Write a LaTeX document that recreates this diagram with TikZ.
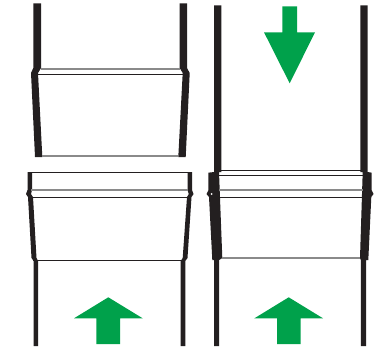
\documentclass[tikz,border=0pt]{standalone}
\usepackage{tikz}
\definecolor{PipeInk}{HTML}{231F20}
\definecolor{SeamGrey}{HTML}{8A8A8A}
\definecolor{PushGreen}{HTML}{00A14B}
\tikzset{
  pipewall/.style={fill=PipeInk,draw=none},
  seamdark/.style={draw=PipeInk,line width=0.8pt},
  seamgrey/.style={draw=SeamGrey,line width=1.1pt},
  pusharrow/.style={fill=PushGreen,draw=none}
}
\begin{document}
\begin{tikzpicture}[x=1pt,y=-1pt]
  \useasboundingbox (0,0) rectangle (380,346);
  % upper spigot, left
  \fill[pipewall] (33.3,3.3) -- (41,3.3) -- (41,68) -- (38,73) -- (42.3,157) -- (35,157) -- (31,73) -- (33.3,68) -- cycle;
  \fill[pipewall] (179.7,3.3) -- (187,3.3) -- (187,68) -- (189.7,73) -- (185.7,157) -- (178.3,157) -- (182.7,73) -- (179.7,68) -- cycle;
  \draw[seamgrey] (41,69) -- (180,69);
  \draw[seamdark] (38,74) -- (183,74);
  \draw[seamgrey] (42,156) -- (178,156);
  % lower socket, left
  \fill[pipewall] (27.5,172) -- (32,172) -- (32,190) -- (31,194) -- (33,197) -- (36.5,258) -- (38.2,261) -- (38.2,346) -- (33.7,346) -- (33.7,261) -- (31.5,258) -- (28,197) -- (26,194) -- (27.5,190) -- cycle;
  \fill[pipewall] (187.5,172) -- (192,172) -- (192,190) -- (193.5,194) -- (191.5,197) -- (187.5,258) -- (185.3,261) -- (185.3,346) -- (180.7,346) -- (180.7,261) -- (182.7,258) -- (187,197) -- (188.8,194) -- (187.5,190) -- cycle;
  \draw[seamdark] (30,172.3) -- (190,172.3);
  \draw[seamgrey] (31,190) -- (188,190);
  \draw[seamdark] (31,197) -- (188,197);
  \draw[seamdark] (33,260) -- (184,260);
  % assembled joint, right
  \fill[pipewall] (214,5.3) -- (221.3,5.3) -- (221.3,172) -- (219,172) -- (222.3,258) -- (219.2,260) -- (219.2,346) -- (214,346) -- (214,260) -- (212.3,260) -- (209,197) -- (206.5,194) -- (208.5,190) -- (208.3,172.7) -- (214,172) -- cycle;
  \fill[pipewall] (360.3,5.3) -- (367.7,5.3) -- (367.7,172) -- (371.7,172.7) -- (371.5,190) -- (373.5,194) -- (371.3,197) -- (368.3,260) -- (366.2,260) -- (366.2,346) -- (360.8,346) -- (360.8,260) -- (360,258) -- (362.7,172) -- (360.3,172) -- cycle;
  \fill[white] (211.7,194) circle (1pt);
  \draw[seamdark] (220,170.7) -- (362,170.7);
  \draw[seamdark] (219,175.7) -- (363,175.7);
  \draw[seamgrey] (219,190) -- (363,190);
  \draw[seamdark] (220,197.7) -- (362,197.7);
  \draw[seamgrey,line width=1.6pt] (222,258) -- (360,258);
  % arrows
  \fill[pusharrow] (108.3,297.3) -- (142.7,318.3) -- (120,318.3) -- (120,344) -- (96.3,344) -- (96.3,318.3) -- (74,318.3) -- cycle;
  \fill[pusharrow] (288.7,297.3) -- (323,318.3) -- (300.6,318.3) -- (300.6,344) -- (277,344) -- (277,318.3) -- (254.4,318.3) -- cycle;
  \fill[pusharrow] (282.3,6.3) -- (297,6.3) -- (297,32.3) -- (315,32.3) -- (289.7,83.3) -- (264,32.3) -- (282.3,32.3) -- cycle;
\end{tikzpicture}
\end{document}
